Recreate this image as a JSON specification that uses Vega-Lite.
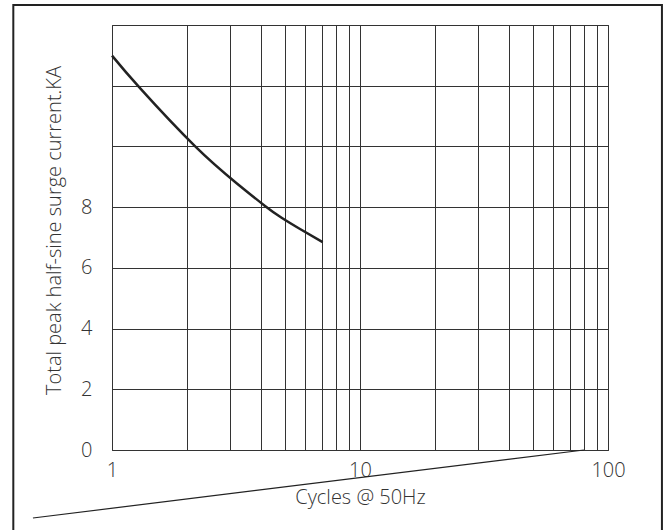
{
  "$schema": "https://vega.github.io/schema/vega-lite/v6.json",
  "width": 496,
  "height": 425,
  "autosize": {"type": "none"},
  "padding": {"left": 112, "top": 25, "right": 59, "bottom": 80},
  "background": "white",
  "config": {
    "view": {"stroke": "#333", "strokeWidth": 1},
    "font": "Open Sans"
  },
  "datasets": {
    "curve": [
      {"cycles": 1, "current": 12.99},
      {"cycles": 1.3, "current": 11.91},
      {"cycles": 2.16, "current": 10.01},
      {"cycles": 3.18, "current": 8.79},
      {"cycles": 4.14, "current": 8.04},
      {"cycles": 4.83, "current": 7.65},
      {"cycles": 5.73, "current": 7.28},
      {"cycles": 7.07, "current": 6.85}
    ],
    "diag": [
      {"cycles": 0.48, "current": -2.24},
      {"cycles": 80, "current": 0}
    ],
    "frame": [
      {"xa": 0.4, "xb": 165, "ya": 14.66, "yb": -3}
    ]
  },
  "layer": [
    {
      "data": {"name": "curve"},
      "mark": {"type": "line", "color": "#222", "strokeWidth": 2.5, "interpolate": "natural"},
      "encoding": {
        "x": {
          "field": "cycles",
          "type": "quantitative",
          "scale": {"type": "log", "domain": [1, 100]},
          "axis": {
            "values": [1, 2, 3, 4, 5, 6, 7, 8, 9, 10, 20, 30, 40, 50, 60, 70, 80, 90, 100],
            "format": "d",
            "labelExpr": "datum.value == 1 || datum.value == 10 || datum.value == 100 ? datum.label : ''",
            "grid": true,
            "gridColor": "#333",
            "gridOpacity": 1,
            "gridWidth": 1,
            "ticks": false,
            "domain": false,
            "labelFontSize": 20,
            "labelFontWeight": 300,
            "labelColor": "#333",
            "labelPadding": 10,
            "labelFlush": false,
            "labelOverlap": false,
            "title": "Cycles @ 50Hz",
            "titleFontSize": 20,
            "titleFontWeight": 300,
            "titleColor": "#333",
            "titlePadding": 7
          }
        },
        "y": {
          "field": "current",
          "type": "quantitative",
          "scale": {"domain": [0, 14], "nice": false},
          "axis": {
            "values": [0, 2, 4, 6, 8, 10, 12, 14],
            "labelExpr": "datum.value <= 8 ? datum.label : ''",
            "grid": true,
            "gridColor": "#333",
            "gridOpacity": 1,
            "gridWidth": 1,
            "ticks": false,
            "domain": false,
            "labelFontSize": 20,
            "labelFontWeight": 300,
            "labelColor": "#333",
            "labelPadding": 20,
            "labelOverlap": false,
            "title": "Total peak half-sine surge current.KA",
            "titleFontSize": 20,
            "titleFontWeight": 300,
            "titleColor": "#333",
            "titlePadding": 16,
            "titleY": 205
          }
        }
      }
    },
    {
      "data": {"name": "diag"},
      "mark": {"type": "line", "color": "#222", "strokeWidth": 1.2, "clip": false},
      "encoding": {
        "x": {"field": "cycles", "type": "quantitative"},
        "y": {"field": "current", "type": "quantitative"}
      }
    },
    {
      "data": {"name": "frame"},
      "mark": {"type": "rect", "filled": false, "stroke": "#222", "strokeWidth": 2, "clip": false},
      "encoding": {
        "x": {"field": "xa", "type": "quantitative"},
        "x2": {"field": "xb"},
        "y": {"field": "ya", "type": "quantitative"},
        "y2": {"field": "yb"}
      }
    }
  ]
}
